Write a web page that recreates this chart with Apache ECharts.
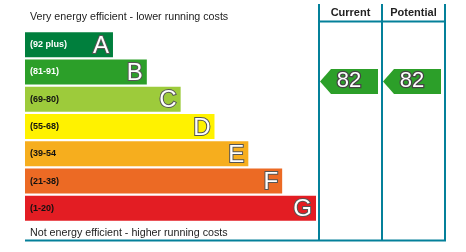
<!DOCTYPE html>
<html>
<head>
<meta charset="utf-8">
<script src="https://cdn.jsdelivr.net/npm/echarts@6/dist/echarts.min.js"></script>
<style>
	html, body { margin: 0; padding: 0; background: #fff; }
	#myChart { width: 466px; height: 252px; }
</style>
</head>
<body>
<div id="myChart"></div>
<script>
	// energy bands, top (best) to bottom
	var bands = ['A', 'B', 'C', 'D', 'E', 'F', 'G'];
	var ranges = ['(92 plus)', '(81-91)', '(69-80)', '(55-68)', '(39-54', '(21-38)', '(1-20)'];
	var bandMin = [92, 81, 69, 55, 39, 21, 1];
	// relative bar lengths
	var bandLength = [26, 36, 46, 56, 66, 76, 86];
	// rating columns
	var columns = ['Current', 'Potential'];
	var scores = [82, 82];
	var topText = 'Very energy efficient - lower running costs';
	var bottomText = 'Not energy efficient - higher running costs';

	var bandColors = ['#007f3d', '#2c9f29', '#9dcb3b', '#fff200', '#f6ae1e', '#ec6a24', '#e31d23'];
	var rangeColors = ['#fff', '#fff', '#111', '#111', '#111', '#111', '#111'];
	var frameColor = '#04809a';
	var font = 'Liberation Sans, Arial';

	function bandOf(score) {
		for (var i = 0; i < bandMin.length; i++) {
			if (score >= bandMin[i]) return i;
		}
		return bandMin.length - 1;
	}

	var myChart = echarts.init(document.getElementById('myChart'));

	var option = {
		animation: false,
		title: [{
			text: topText,
			left: 30,
			top: 11.5,
			padding: 0,
			textStyle: { fontFamily: font, fontSize: 10.7, fontWeight: 'normal', color: '#222' }
		}, {
			text: bottomText,
			left: 30,
			top: 227.5,
			padding: 0,
			textStyle: { fontFamily: font, fontSize: 10.7, fontWeight: 'normal', color: '#222' }
		}],
		grid: [
			{ left: 25, width: 291, top: 31, height: 191 },
			{ left: 319, right: 21, top: 4, bottom: 11.5 },
			{ left: 319, right: 21, top: 31, height: 191 }
		],
		xAxis: [
			{ gridIndex: 0, type: 'value', min: 0, max: 86, show: false },
			{
				gridIndex: 1, type: 'category', data: columns, position: 'top',
				axisLine: { show: false, onZero: false },
				axisTick: { show: false },
				axisLabel: { inside: true, margin: 3, color: '#222', fontFamily: font, fontSize: 11, fontWeight: 'bold' },
				splitLine: { show: true, lineStyle: { color: frameColor, width: 2 } }
			},
			{ gridIndex: 2, type: 'category', data: columns, show: false }
		],
		yAxis: [
			{ gridIndex: 0, type: 'category', data: bands, inverse: true, show: false },
			{ gridIndex: 1, type: 'category', data: bands, show: false },
			{ gridIndex: 2, type: 'category', data: bands, inverse: true, show: false }
		],
		graphic: [{
			// header rule under the column titles
			type: 'line',
			shape: { x1: 318, y1: 21.5, x2: 446, y2: 21.5 },
			style: { stroke: frameColor, lineWidth: 2 }
		}, {
			type: 'line',
			shape: { x1: 25, y1: 240.5, x2: 446, y2: 240.5 },
			style: { stroke: frameColor, lineWidth: 2 }
		}],
		series: [{
			type: 'bar',
			xAxisIndex: 0,
			yAxisIndex: 0,
			barWidth: 25,
			data: bandLength.map(function(v, i) {
				return { value: v, itemStyle: { color: bandColors[i] } };
			}),
			label: {
				show: true,
				position: 'insideRight',
				distance: 4,
				formatter: function(p) { return bands[p.dataIndex]; },
				fontFamily: font,
				fontSize: 24,
				color: '#fff',
				textBorderColor: '#555',
				textBorderWidth: 2,
				offset: [0, 1.5]
			}
		}, {
			type: 'bar',
			xAxisIndex: 0,
			yAxisIndex: 0,
			barWidth: 25,
			barGap: '-100%',
			silent: true,
			data: bandLength.map(function(v, i) {
				return {
					value: v,
					label: { color: rangeColors[i] }
				};
			}),
			itemStyle: { color: 'rgba(0,0,0,0)' },
			label: {
				show: true,
				position: 'insideLeft',
				distance: 5,
				formatter: function(p) { return ranges[p.dataIndex]; },
				fontFamily: font,
				fontSize: 9,
				fontWeight: 'bold'
			}
		}, {
			type: 'scatter',
			xAxisIndex: 2,
			yAxisIndex: 2,
			symbol: 'path://M0 12.5L11 0L58 0L58 25L11 25Z',
			symbolSize: [58, 25],
			symbolOffset: [-1.5, 9.5],
			itemStyle: { color: '#2c9f29', opacity: 1 },
			data: columns.map(function(c, i) {
				return [c, bands[bandOf(scores[i])], scores[i]];
			}),
			label: {
				show: true,
				position: 'inside',
				formatter: function(p) { return p.value[2]; },
				fontFamily: font,
				fontSize: 22,
				color: '#fff',
				textBorderColor: '#444',
				textBorderWidth: 2.5
			}
		}]
	};

	myChart.setOption(option);
</script>
</body>
</html>
